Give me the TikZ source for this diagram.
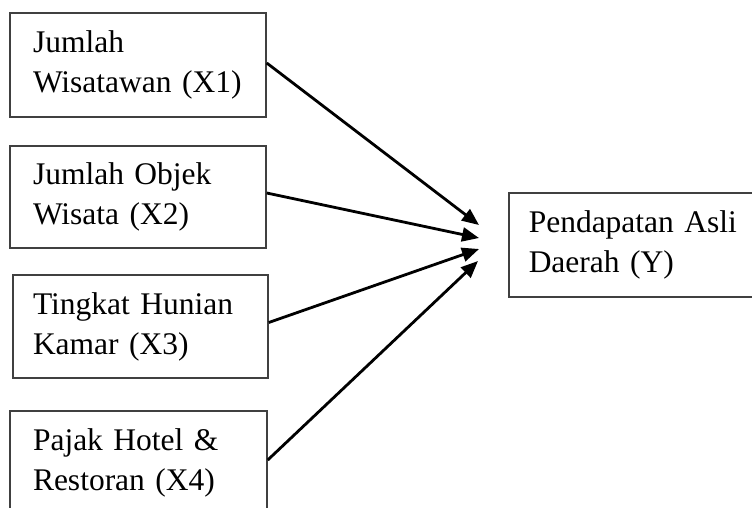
\documentclass[tikz,border=0pt]{standalone}
\usepackage{fontspec}
\setmainfont{Liberation Serif}
\usetikzlibrary{arrows.meta}
\tikzset{
  varbox/.style={draw=black!75, line width=1.5pt, rectangle, align=left,
    inner xsep=0pt, inner ysep=0pt, font=\fontsize{31.5}{40}\selectfont},
  link/.style={line width=2.8pt, -{Triangle[length=17pt,width=14pt]}}
}
\begin{document}
\begin{tikzpicture}[x=1pt,y=-1pt]
\useasboundingbox (0,0) rectangle (752,507);
\clip (0,0) rectangle (752,507);
\node[varbox, minimum width=256, minimum height=104, text width=210] (b1) at (138,65) {Jumlah\\Wisatawan (X1)};
\node[varbox, minimum width=256, minimum height=102, text width=210] (b2) at (138,197) {Jumlah Objek\\Wisata (X2)};
\node[varbox, minimum width=255, minimum height=103, text width=215] (b3) at (140.5,326.5) {Tingkat Hunian\\Kamar (X3)};
\node[varbox, minimum width=257, minimum height=104, text width=211] (b4) at (138.5,463) {Pajak Hotel \&\\Restoran (X4)};
\node[varbox, anchor=west, minimum width=272, minimum height=104, text width=232] (y) at (508,245) {Pendapatan Asli\\Daerah (Y)};
\coordinate (t1) at (479,225);
\coordinate (t2) at (479,238);
\coordinate (t3) at (479,249);
\coordinate (t4) at (478,261);
\draw[link] ([yshift=2]b1.east) -- (t1);
\draw[link] ([yshift=4]b2.east) -- (t2);
\draw[link] ([yshift=4]b3.east) -- (t3);
\draw[link] ([yshift=3]b4.east) -- (t4);
\end{tikzpicture}
\end{document}
